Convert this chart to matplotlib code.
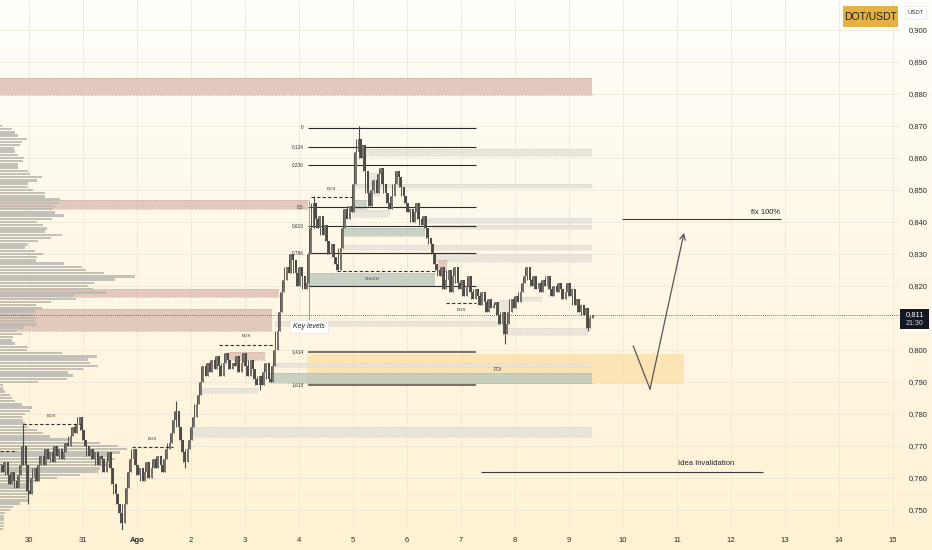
import matplotlib
matplotlib.use("Agg")
import matplotlib.pyplot as plt
from matplotlib.patches import Rectangle
import numpy as np

plt.rcParams['font.family'] = ['Liberation Sans', 'DejaVu Sans']

# ---- data (prices in thousandths of USDT, time in days from 30 Jul 00:00) ----
t_start = -0.52   # first hourly candle
closes = [
    764, 762, 765,
    761, 758, 762, 759, 757, 761, 764,
    770,
    764, 756, 755,
    760, 763, 759, 764,
    767, 764, 769, 766, 768, 765, 770, 767, 769, 766, 768, 771,
    770, 773, 776, 774, 777, 779,
    775, 772, 770, 767, 769, 766, 768, 764, 767,
    766, 762, 765, 768, 763, 758, 755, 752, 749,
    746,
    752, 757, 762, 766, 769,
    764, 761, 763, 759, 762, 765, 760, 763, 766,
    763, 767, 764, 762, 766, 769,
    771, 774, 778,
    781,
    776, 772, 768, 765,
    769, 772, 776, 779, 783, 786,
    790, 795, 792,
    796, 793, 797, 794, 798, 795, 792, 796, 799, 797, 794, 796,
    795, 798, 793, 796, 799, 795, 792, 797, 794, 791, 789, 792, 789,
    793, 796, 791, 790, 795,
    800, 806, 812, 818,
    822, 826, 824, 830,
    828, 824, 820, 826, 823, 819, 821,
    830, 838, 846,
    841, 838, 842, 836, 839, 834, 830, 833, 829, 827, 825,
    832, 838, 844, 841, 845, 843,
    852, 862, 866,
    860, 864, 856, 849, 845,
    850, 853, 849, 855, 857, 852,
    849, 846, 844,
    848, 852, 856, 854,
    851, 848, 846, 843,
    844, 840, 843, 846, 841, 839, 842,
    838, 835, 833, 830, 827, 825,
    823, 826, 819, 822, 825, 818, 823, 826, 821,
    819, 822, 817, 820, 823, 818, 816, 819,
    817, 814, 818, 815, 812, 816, 813, 814,
    815, 811, 808, 812, 805, 808,
    812, 816, 813, 817, 815,
    818, 821, 823, 826, 822,
    820, 823, 819, 821, 818, 822, 820, 823,
    819, 817, 820, 818, 821, 819, 816, 818, 821,
    817, 819, 814, 816, 812, 814, 811, 813,
    807, 810, 811,
]
wick_idx = [10, 12, 54, 78, 82, 115, 139, 159, 224, 261]
wick_px = [777, 752, 743, 784, 763, 787.5, 848, 870, 802, 806]

# volume profile rows, from 0,870 down to 0,744
vp_top = 870
vp_vol = [2, 12, 15, 18, 27, 22, 20, 14, 15, 18,
          24, 23, 18, 18, 28, 30, 42, 37, 28, 28,
          33, 45, 45, 60, 58, 55, 52, 55, 64, 52,
          37, 43, 47, 45, 62, 51, 38, 28, 25, 35,
          43, 37, 36, 64, 82, 86, 104, 135, 115, 94,
          88, 93, 106, 74, 76, 51, 36, 42, 35, 33,
          36, 35, 37, 24,
          17, 22, 13, 12, 15, 28, 27, 62, 97, 88,
          90, 98, 83, 68, 73, 67, 38, 3, 3, 5,
          10, 12, 15, 22, 32, 30, 25, 22, 23, 25,
          28, 37, 43, 50, 72, 100, 118, 127, 120, 110,
          115, 108, 110, 100, 98, 80, 57, 37, 28, 27,
          32, 28, 27, 28, 20, 13, 10, 5, 4, 4,
          4, 4, 3]

pink_start = [-0.537, -0.537, -0.537, -0.537, 3.70, 7.57]
pink_end = [10.43, 5.17, 4.63, 4.50, 4.37, 7.74]
pink_top = [885.0, 846.9, 819.1, 812.8, 799.4, 828.1]
pink_bot = [879.7, 844.1, 816.6, 805.9, 796.9, 824.4]

green_start = [5.17, 5.83, 5.98, 4.46]
green_end = [7.52, 7.33, 6.26, 10.43]
green_top = [824.1, 838.1, 846.9, 792.8]
green_bot = [820.0, 835.6, 844.1, 789.7]

grey_start = [6.17, 6.04, 7.33, 7.46, 5.80, 7.52, 4.56, 8.87, 4.50, 3.17, 3.02, 6.26, 5.98, 8.70, 9.13]
grey_end = [10.43, 10.43, 10.43, 10.43, 10.43, 10.43, 8.81, 10.35, 10.43, 4.24, 10.43, 6.50, 6.69, 8.91, 9.50]
grey_top = [862.8, 851.9, 841.25, 839.1, 832.8, 830.0, 809.1, 806.9, 795.9, 788.1, 775.9, 855.3, 843.75, 815.6, 816.6]
grey_bot = [860.6, 850.6, 839.7, 837.8, 831.25, 827.5, 807.5, 804.7, 794.7, 786.6, 772.8, 848.1, 841.6, 812.2, 815.3]

poi_start, poi_end, poi_top, poi_bot = 5.15, 12.13, 798.75, 789.4

bos_start = [-0.11, 1.91, 3.52, 5.22, 7.72, -0.537]
bos_end = [0.94, 2.67, 4.52, 5.98, 8.28, -0.22]
bos_price = [776.9, 769.7, 801.6, 847.8, 814.8, 768.5]
bos_label_dy = [2.5, 2.5, 2.7, 2.5, -2.4, None]
choch_start, choch_end, choch_price = 5.70, 7.52, 824.7

fib_start, fib_end = 5.17, 8.28
fib_labels = ["0", "0,124", "0,236", "0,5", "0,618", "0,786", "", "1,414", "1,618"]
fib_prices = [869.4, 863.4, 857.8, 844.7, 838.75, 830.3, 820.0, 799.4, 789.1]

fix_line = (10.98, 13.93, 840.9)
inval_line = (8.37, 13.59, 761.9)
arrow_t = [11.19, 11.50, 12.13]
arrow_p = [801.25, 787.8, 836.6]

last_price = 811
day_ticks = list(range(0, 17))
day_labels = ["30", "31", "Ago"] + [str(d) for d in range(2, 16)]
price_ticks = [p for p in range(750, 901, 10) if p != 810]

# ---- figure ----
W, H = 932, 550
fig = plt.figure(figsize=(W / 100, H / 100), dpi=100)

bg = fig.add_axes([0, 0, 1, 1], zorder=0)
grad = np.linspace(0, 1, 256).reshape(-1, 1)
top_c = np.array([255, 254, 250]) / 255
bot_c = np.array([255, 242, 212]) / 255
img = top_c[None, None, :] * (1 - grad[:, :, None]) + bot_c[None, None, :] * grad[:, :, None]
bg.imshow(img, aspect='auto', extent=[0, 1, 0, 1])
bg.axis('off')

ax = fig.add_axes([0, 20 / H, 900 / W, 530 / H], zorder=1)
ax.set_facecolor('none')
x_left, x_right = -0.537, (900 - 29) / 54
ax.set_xlim(x_left, x_right)
ax.set_ylim(743.75, 909.375)
for s in ax.spines.values():
    s.set_visible(False)

# grid
for d in day_ticks:
    ax.axvline(d, color='#efe8d8', lw=0.6, zorder=0)
for p in range(750, 910, 10):
    ax.axhline(p, color='#efe8d8', lw=0.6, zorder=0)

ax.yaxis.tick_right()
ax.set_yticks(price_ticks)
ax.set_yticklabels([f"0,{p:03d}" for p in price_ticks])
ax.set_xticks(day_ticks)
ax.set_xticklabels(day_labels)
ax.tick_params(axis='y', length=0, pad=6, labelsize=5.5, labelcolor='#2a2a2a')
ax.tick_params(axis='x', length=0, pad=5, labelsize=5.5, labelcolor='#2a2a2a')
for lbl in ax.get_xticklabels():
    if lbl.get_text() == "Ago":
        lbl.set_fontweight('bold')


def zone(t0, t1, top, bot, fc, ec, alpha, z=1):
    ax.add_patch(Rectangle((t0, bot), t1 - t0, top - bot, facecolor=fc, edgecolor='none',
                           alpha=alpha, zorder=z))
    ax.hlines([top, bot], t0, t1, colors=ec, lw=0.5, linestyles=(0, (3, 2)), alpha=alpha, zorder=z)


# POI area
ax.add_patch(Rectangle((poi_start, poi_bot), poi_end - poi_start, poi_top - poi_bot,
                       facecolor='#fddfa6', edgecolor='none', alpha=0.75, zorder=1))
for a, b, t, u in zip(grey_start, grey_end, grey_top, grey_bot):
    zone(a, b, t, u, '#e6e2d8', '#d9d4c9', 0.85)
for a, b, t, u in zip(pink_start, pink_end, pink_top, pink_bot):
    zone(a, b, t, u, '#dfc4b8', '#cfa99a', 0.9)
for a, b, t, u in zip(green_start, green_end, green_top, green_bot):
    zone(a, b, t, u, '#bfcbbd', '#a9b5a6', 0.85)
ax.hlines(poi_bot + 0.3, poi_start, 10.43, colors='#e8b46a', lw=0.7, zorder=2)

# volume profile
vp_prices = [vp_top - k for k in range(len(vp_vol))]
ax.barh(vp_prices, [v / 54 for v in vp_vol], height=0.8, left=x_left,
        color='#bdbbb3', alpha=0.9, edgecolor='none', zorder=2)

# fib levels
for lab, p in zip(fib_labels, fib_prices):
    dark = p > 810
    ax.hlines(p, fib_start, fib_end, colors='#2b2b2b' if dark else '#6b665c',
              lw=0.8 if dark else 1.3, zorder=3)
    if lab:
        ax.text(fib_start - 0.08, p, lab, fontsize=3.4, ha='right', va='center',
                color='#333333', zorder=5)
ax.vlines(fib_start + 0.02, 808.8, 846.9, colors='#8a8a8a', lw=0.6, zorder=3)

# BOS / CHoCH
for a, b, p, dy in zip(bos_start, bos_end, bos_price, bos_label_dy):
    ax.hlines(p, a, b, colors='#333333', lw=0.8, linestyles=(0, (3, 2)), zorder=5)
    if dy is not None:
        ax.text((a + b) / 2, p + dy, "BOS", fontsize=3.2, ha='center', va='center',
                color='#333333', zorder=5)
ax.hlines(choch_price, choch_start, choch_end, colors='#333333', lw=0.8,
          linestyles=(0, (3, 2)), zorder=5)
ax.text(6.35, 822.2, "CHoCH", fontsize=3.2, ha='center', va='center', color='#333333', zorder=5)
ax.text(8.68, 794.0, "POI", fontsize=3.4, ha='center', va='center', color='#333333', zorder=5)

# candles: open = previous close, wick reaches the next close
n = len(closes)
times = [t_start + i / 24 for i in range(n)]
opens = [closes[0]] + closes[:-1]
nexts = closes[1:] + [closes[-1]]
cw = 0.85 / 24
for t, o, c, nx in zip(times, opens, closes, nexts):
    lo, hi = min(o, c), max(o, c)
    col = '#77746e' if c >= o else '#4e4b47'
    ax.vlines(t, min(lo, nx), max(hi, nx), colors='#55524d', lw=0.7, zorder=4)
    ax.add_patch(Rectangle((t - cw / 2, lo), cw, max(hi - lo, 0.4), facecolor=col,
                           edgecolor='none', zorder=4))
for i, p in zip(wick_idx, wick_px):
    ax.vlines(times[i], min(p, opens[i], closes[i]), max(p, opens[i], closes[i]),
              colors='#4e4b47', lw=0.8, zorder=4)

# current price line
ax.axhline(last_price, color='#444444', lw=0.6, linestyle=(0, (1, 1.5)), zorder=5)

# key levels tag
ax.text(fib_start + 0.02, 807.2, "Key levels", fontsize=5, style='italic', ha='center', va='center',
        color='#222222', zorder=6,
        bbox=dict(boxstyle='round,pad=0.45,rounding_size=0.3', fc='white', ec='#e4e4e4', lw=0.5))

# idea lines
ax.hlines(fix_line[2], fix_line[0], fix_line[1], colors='#3a3a3a', lw=0.8, zorder=5)
ax.text(fix_line[1] - 0.02, fix_line[2] + 2.2, "fix 100%", fontsize=5.5, ha='right',
        va='center', color='#222222', zorder=6)
ax.hlines(inval_line[2], inval_line[0], inval_line[1], colors='#3a3a3a', lw=0.8, zorder=5)
ax.text(12.54, inval_line[2] + 2.5, "Idea Invalidation", fontsize=5.5, ha='center',
        va='center', color='#222222', zorder=6)
ax.plot(arrow_t[:2], arrow_p[:2], color='#555555', lw=0.9, zorder=5)
ax.annotate("", xy=(arrow_t[2], arrow_p[2]), xytext=(arrow_t[1], arrow_p[1]),
            arrowprops=dict(arrowstyle='->', color='#555555', lw=0.9, shrinkA=0, shrinkB=0),
            zorder=5)

# right-side tags (figure pixel layout)
def fx(px):
    return px / W


def fy(py):
    return 1 - py / H


fig.patches.append(Rectangle((fx(843), fy(27)), fx(55), 21 / H, transform=fig.transFigure,
                             facecolor='#e3b243', edgecolor='none', zorder=5))
fig.text(fx(870.5), fy(16.5), "DOT/USDT", fontsize=7.5, ha='center', va='center',
         color='#1e1e1e', zorder=6)
fig.patches.append(Rectangle((fx(905), fy(19)), fx(21), 13 / H, transform=fig.transFigure,
                             facecolor='white', edgecolor='#e6e6e6', lw=0.5, zorder=5))
fig.text(fx(915.5), fy(12.5), "USDT", fontsize=4.3, ha='center', va='center',
         color='#333333', zorder=6)

fig.patches.append(Rectangle((fx(900), fy(329)), fx(29), 20 / H, transform=fig.transFigure,
                             facecolor='#131722', edgecolor='none', zorder=5))
fig.text(fx(906), fy(314.5), "0,811", fontsize=5.5, ha='left', va='center',
         color='white', zorder=6)
fig.text(fx(906), fy(323.5), "21:30", fontsize=5, ha='left', va='center',
         color='#d8d8d8', zorder=6)

fig.savefig("out.png", dpi=100)
